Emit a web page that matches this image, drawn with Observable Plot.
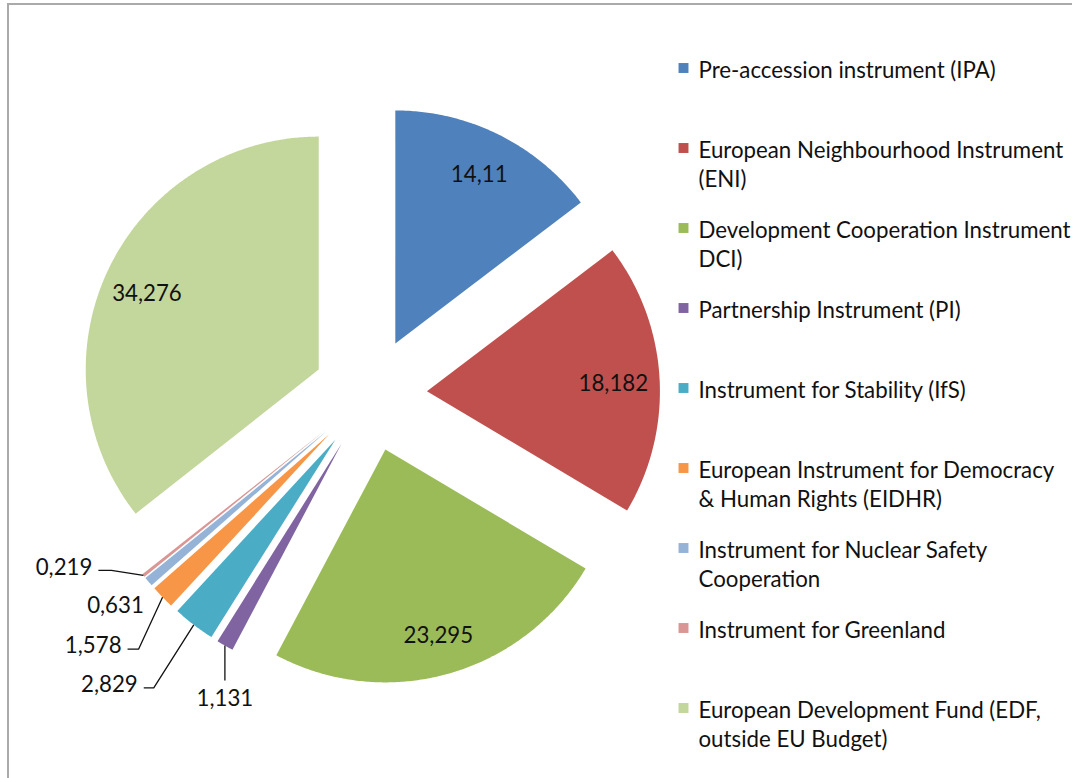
<!DOCTYPE html>
<html><head><meta charset="utf-8">
<script src="https://cdn.jsdelivr.net/npm/d3@7"></script>
<script src="https://cdn.jsdelivr.net/npm/@observablehq/plot@0.6"></script>
<style>
html,body{margin:0;padding:0;background:#fff;overflow:hidden}
#wrap{position:relative;width:1072px;height:778px;overflow:hidden;background:#fff}
#border{position:absolute;left:7px;top:3px;width:1300px;height:1000px;border:2px solid #aaaaaa;box-sizing:border-box}
#chart{position:absolute;left:0;top:0}
</style></head><body>
<div id="wrap"><div id="border"></div><div id="chart"></div></div>
<script>
// ---- data ----
const categories = [
  "Pre-accession instrument (IPA)",
  "European Neighbourhood Instrument (ENI)",
  "Development Cooperation Instrument DCI)",
  "Partnership Instrument (PI)",
  "Instrument for Stability (IfS)",
  "European Instrument for Democracy & Human Rights (EIDHR)",
  "Instrument for Nuclear Safety Cooperation",
  "Instrument for Greenland",
  "European Development Fund (EDF, outside EU Budget)"
];
const legendLabels = [
  ["Pre-accession instrument (IPA)"],
  ["European Neighbourhood Instrument", "(ENI)"],
  ["Development Cooperation Instrument", "DCI)"],
  ["Partnership Instrument (PI)"],
  ["Instrument for Stability (IfS)"],
  ["European Instrument for Democracy", "& Human Rights (EIDHR)"],
  ["Instrument for Nuclear Safety", "Cooperation"],
  ["Instrument for Greenland"],
  ["European Development Fund (EDF,", "outside EU Budget)"]
];
const values = [14.11, 18.182, 23.295, 1.131, 2.829, 1.578, 0.631, 0.219, 34.276];
const colors = ["#4F81BD", "#C0504D", "#9BBB59", "#8064A2", "#4BACC6", "#F79646", "#95B3D7", "#D99694", "#C3D69B"];

// ---- layout ----
const W = 1072, H = 778;
const cx = 369.5, cy = 394, R = 233, explode = 57;
const FONT = "Lato";
const insideRatio = 0.81;
const insideNudge = {1: [-2, 3], 2: [2, 5], 8: [-2, 7]};
// outside labels: offsets relative to the slice's outer mid point
const outside = {
  3: {leader: [[0, 35]], text: [0, 53], anchor: "middle"},
  4: {leader: [[-40, 63], [-50, 63]], text: [-56, 60], anchor: "end"},
  5: {leader: [[-24, 52], [-35, 52]], text: [-41, 49], anchor: "end"},
  6: {leader: [], text: [-33, 24], anchor: "middle"},
  7: {leader: [[-32, -5], [-45, -5]], text: [-51, -8], anchor: "end"}
};

function fitSize(text, target) {
  const ctx = document.createElement("canvas").getContext("2d");
  ctx.font = `100px ${FONT}`;
  return 100 * target / ctx.measureText(text).width;
}

async function draw() {
  try { await document.fonts.load(`20px ${FONT}`); } catch (e) {}
  const legendSize = fitSize("European Neighbourhood Instrument", 365);
  const labelSize = legendSize;

  const total = d3.sum(values);
  let acc = 0;
  const slices = categories.map((c, i) => {
    const a0 = acc / total * 2 * Math.PI;
    acc += values[i];
    const a1 = acc / total * 2 * Math.PI;
    const mid = (a0 + a1) / 2;
    return {c, i, a0, a1, mid,
      ox: cx + explode * Math.sin(mid), oy: cy - explode * Math.cos(mid),
      px: cx + (explode + R) * Math.sin(mid), py: cy - (explode + R) * Math.cos(mid)};
  });

  const pts = [];
  for (const s of slices) {
    pts.push({c: s.c, x: s.ox, y: s.oy});
    const n = Math.max(2, Math.ceil((s.a1 - s.a0) / (Math.PI / 360)));
    for (let k = 0; k <= n; k++) {
      const a = s.a0 + (s.a1 - s.a0) * k / n;
      pts.push({c: s.c, x: s.ox + R * Math.sin(a), y: s.oy - R * Math.cos(a)});
    }
    pts.push({c: s.c, x: s.ox, y: s.oy});
  }

  const fmt = v => String(v).replace(".", ",");
  const inLabels = [], outLabels = [], leaders = [];
  for (const s of slices) {
    if (outside[s.i]) {
      const o = outside[s.i];
      outLabels.push({x: s.px + o.text[0], y: s.py + o.text[1], t: fmt(values[s.i]), anchor: o.anchor});
      if (o.leader.length) {
        leaders.push({k: s.i, x: s.px, y: s.py});
        for (const [dx, dy] of o.leader) leaders.push({k: s.i, x: s.px + dx, y: s.py + dy});
      }
    } else {
      const nd = insideNudge[s.i] || [0, 0];
      inLabels.push({x: s.ox + insideRatio * R * Math.sin(s.mid) + nd[0],
                     y: s.oy - insideRatio * R * Math.cos(s.mid) + nd[1], t: fmt(values[s.i])});
    }
  }

  const legX = 683, legTextX = 698, legY0 = 70, legStep = 80, legLine = 29;
  const legendSwatches = categories.map((c, i) => ({c, x: legX, y: legY0 + i * legStep - 2.5}));
  const legendText = legendLabels.flatMap((lines, i) => lines.map((t, k) => ({t, x: legTextX, y: legY0 + i * legStep + k * legLine})));

  const chart = Plot.plot({
    width: W, height: H, margin: 0,
    x: {domain: [0, W], range: [0, W], axis: null},
    y: {domain: [0, H], range: [0, H], axis: null},
    color: {domain: categories, range: colors},
    style: {fontFamily: FONT, background: "transparent", overflow: "hidden"},
    marks: [
      Plot.line(pts, {x: "x", y: "y", z: "c", fill: "c", stroke: "none", curve: "linear"}),
      Plot.text(inLabels, {x: "x", y: "y", text: "t", fontSize: labelSize, fill: "#111", fontFamily: FONT}),
      Plot.line(leaders, {x: "x", y: "y", z: "k", stroke: "#111", strokeWidth: 1.3, strokeLinecap: "butt"}),
      Plot.text(outLabels.filter(d => d.anchor === "end"), {x: "x", y: "y", text: "t", textAnchor: "end", fontSize: labelSize, fill: "#111", fontFamily: FONT}),
      Plot.text(outLabels.filter(d => d.anchor === "middle"), {x: "x", y: "y", text: "t", textAnchor: "middle", fontSize: labelSize, fill: "#111", fontFamily: FONT}),
      Plot.dot(legendSwatches, {x: "x", y: "y", fill: "c", symbol: "square", r: 5.6, stroke: "none"}),
      Plot.text(legendText, {x: "x", y: "y", text: "t", textAnchor: "start", fontSize: legendSize, fill: "#111", fontFamily: FONT})
    ]
  });
  document.getElementById("chart").appendChild(chart);
}
draw();
</script>
</body></html>
